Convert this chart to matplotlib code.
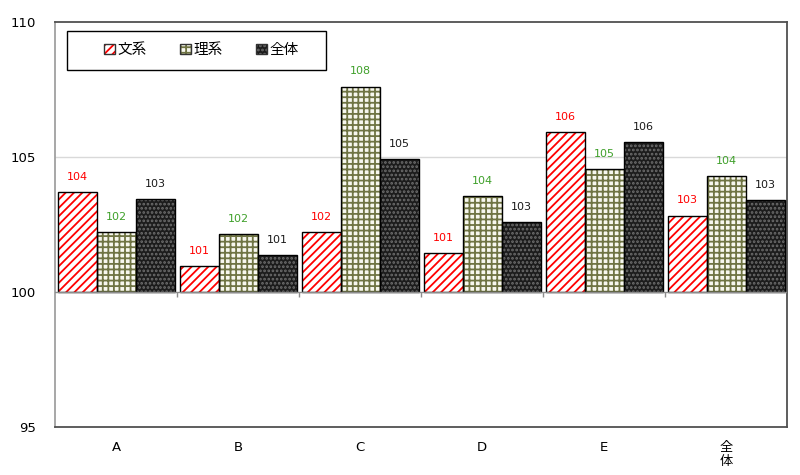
import matplotlib
matplotlib.use("Agg")
import matplotlib.pyplot as plt
import numpy as np

plt.rcParams['font.family'] = ['DejaVu Sans', 'Noto Sans CJK JP']
plt.rcParams['hatch.linewidth'] = 1.3

# データ
categories = ['A', 'B', 'C', 'D', 'E', '全\n体']
bunkei = [103.70, 100.95, 102.22, 101.43, 105.93, 102.83]
rikei = [102.21, 102.13, 107.60, 103.56, 104.55, 104.29]
zentai = [103.44, 101.36, 104.91, 102.58, 105.56, 103.39]
series_names = ['文系', '理系', '全体']

fig = plt.figure(figsize=(8, 4.75), dpi=100)
ax = fig.add_axes([0.069, 0.101, 0.915, 0.853])

x = np.arange(len(categories))
width = 0.32

styles = [
    dict(face='white', hatch='////', hcolor='#ff0000', text='#ff0000'),
    dict(face='#f7f7ee', hatch='+++', hcolor='#6f7443', text='#3fa02a'),
    dict(face='#1c1c1c', hatch='....', hcolor='#6e6e6e', text='#1a1a1a'),
]

handles = []
for i, (vals, st, name) in enumerate(zip([bunkei, rikei, zentai], styles, series_names)):
    pos = x + (i - 1) * width
    heights = np.array(vals) - 100
    # 模様
    ax.bar(pos, heights, width, bottom=100, color=st['face'], hatch=st['hatch'],
           edgecolor=st['hcolor'], linewidth=0, zorder=2)
    # 枠線
    ax.bar(pos, heights, width, bottom=100, fill=False, edgecolor='black',
           linewidth=1.0, zorder=3)
    for px, v in zip(pos, vals):
        ax.annotate(f'{v:.0f}', (px, v), xytext=(0, 11), textcoords='offset points',
                    ha='center', va='center', fontsize=8, color=st['text'])
    h1 = plt.Rectangle((0, 0), 1, 1, facecolor=st['face'], hatch=st['hatch'],
                       edgecolor=st['hcolor'], linewidth=0)
    h2 = plt.Rectangle((0, 0), 1, 1, fill=False, edgecolor='#333333', linewidth=1.0)
    handles.append((h1, h2))

ax.set_ylim(95, 110)
ax.set_xlim(-0.5, len(categories) - 0.5)
ax.set_yticks([95, 100, 105, 110])
ax.tick_params(axis='y', length=0, pad=14, labelsize=9.5)
ax.set_xticks(x)
ax.set_xticklabels(categories, fontsize=9.5, linespacing=1.15, va='top')
ax.tick_params(axis='x', length=0, pad=10)

# 目盛線と100の横軸
ax.axhline(105, color='#d9d9d9', linewidth=1.0, zorder=1)
ax.axhline(100, color='#8c8c8c', linewidth=1.0, zorder=4)
ax.vlines(x[:-1] + 0.5, 99.8, 100, color='#8c8c8c', linewidth=1.0, zorder=4)

for side in ['top', 'right', 'bottom']:
    ax.spines[side].set_color('#505050')
    ax.spines[side].set_linewidth(1.3)
ax.spines['left'].set_color('#a0a0a0')
ax.spines['left'].set_linewidth(1.3)

# 凡例の枠
frame = plt.Rectangle((0.0164, 0.881), 0.354, 0.097, transform=ax.transAxes,
                      fill=True, facecolor='white', edgecolor='black', linewidth=1.0, zorder=5)
ax.add_patch(frame)
leg = ax.legend(handles, series_names, loc='center', bbox_to_anchor=(0.200, 0.931),
                ncol=3, fontsize=10.5, frameon=False,
                handlelength=0.7, handleheight=0.7, handletextpad=0.2,
                columnspacing=2.3, borderpad=0, borderaxespad=0)
leg.set_zorder(6)

plt.savefig('out.png', dpi=100)
